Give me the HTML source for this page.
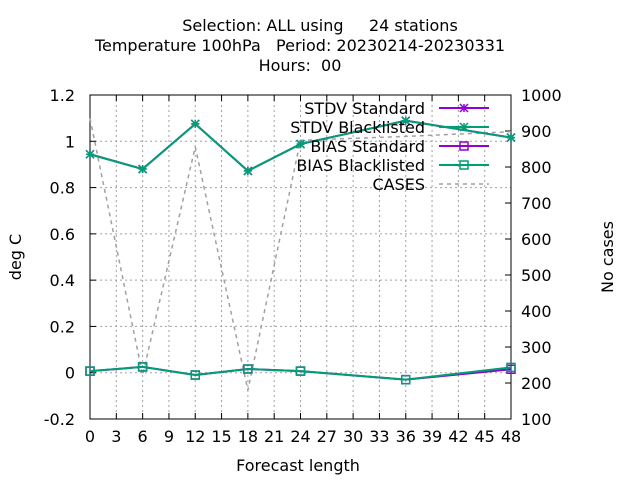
<!DOCTYPE html>
<html><head><meta charset="utf-8"><style>
body{margin:0;background:#fff}
svg text{font-family:"DejaVu Sans","Liberation Sans",sans-serif;font-size:16px;fill:#000}
</style></head><body>
<svg id="chart" width="640" height="480" viewBox="0 0 640 480">
<rect width="640" height="480" fill="#fff"/>
<g id="grid"></g>
<g id="axes"></g>
<g id="series"></g>
<g id="legend"></g>
<text x="320" y="31" text-anchor="middle" xml:space="preserve">Selection: ALL using     24 stations</text>
<text x="300" y="51" text-anchor="middle" xml:space="preserve">Temperature 100hPa   Period: 20230214-20230331</text>
<text x="300" y="71" text-anchor="middle" xml:space="preserve">Hours:  00</text>
<text x="298" y="471" text-anchor="middle">Forecast length</text>
<text transform="translate(21,257) rotate(-90)" text-anchor="middle">deg C</text>
<text transform="translate(613,257) rotate(-90)" text-anchor="middle">No cases</text>
</svg>
<script>
const hours=[0,6,12,18,24,36,48];
const stdvStd=[0.944,0.880,1.075,0.872,0.988,1.089,1.016];
const stdvBl=[0.944,0.880,1.075,0.872,0.988,1.089,1.016];
const biasStd=[0.007,0.025,-0.010,0.016,0.007,-0.030,0.015];
const biasBl=[0.007,0.025,-0.010,0.016,0.007,-0.030,0.023];
const cases=[935,222,856,180,874,885,898];
const xTicks=[0,3,6,9,12,15,18,21,24,27,30,33,36,39,42,45,48];
const yTicks=[-0.2,0,0.2,0.4,0.6,0.8,1,1.2];
const y2Ticks=[100,200,300,400,500,600,700,800,900,1000];
const X0=90,X1=511,Y0=95,Y1=419;
const NS='http://www.w3.org/2000/svg';
const sx=v=>X0+(v-0)/48*(X1-X0);
const sy=v=>Y1-(v+0.2)/1.4*(Y1-Y0);
const sy2=v=>Y1-(v-100)/900*(Y1-Y0);
function mk(tag,attrs,parent){const e=document.createElementNS(NS,tag);for(const k in attrs)e.setAttribute(k,attrs[k]);parent.appendChild(e);return e;}
const grid=document.getElementById('grid'),axes=document.getElementById('axes'),ser=document.getElementById('series'),leg=document.getElementById('legend');
xTicks.forEach(t=>{const x=sx(t);
 if(t>0&&t<48){const g=mk('line',{x1:x,x2:x,y1:Y0,y2:Y1,stroke:'#a0a0a0','stroke-width':1,'stroke-dasharray':'2,3'},grid);
 
 }
 mk('line',{x1:x,x2:x,y1:Y1,y2:Y1-6,stroke:'#000'},axes);
 mk('line',{x1:x,x2:x,y1:Y0,y2:Y0+6,stroke:'#000'},axes);
 const tx=mk('text',{x:x,y:Y1+23,'text-anchor':'middle'},axes);tx.textContent=t;
 
 });
yTicks.forEach(t=>{const y=sy(t);
 if(t>-0.2&&t<1.2){const g=mk('line',{x1:X0,x2:X1,y1:y,y2:y,stroke:'#a0a0a0','stroke-width':1,'stroke-dasharray':'2,3'},grid);
 
 }
 mk('line',{x1:X0,x2:X0+6,y1:y,y2:y,stroke:'#000'},axes);
 const tx=mk('text',{x:X0-15,y:y+6,'text-anchor':'end'},axes);tx.textContent=Math.round(t*10)/10;
 
 });
y2Ticks.forEach(t=>{const y=sy2(t);
 mk('line',{x1:X1,x2:X1-6,y1:y,y2:y,stroke:'#000'},axes);
 const tx=mk('text',{x:X1+10,y:y+6,'text-anchor':'start'},axes);tx.textContent=t;
 
 });
const frame=mk('rect',{x:X0,y:Y0,width:X1-X0,height:Y1-Y0,fill:'none',stroke:'#000','stroke-width':1},axes);


function star(g,x,y,c){mk('path',{d:`M${x-4} ${y-4}L${x+4} ${y+4}M${x-4} ${y+4}L${x+4} ${y-4}M${x-4} ${y}L${x+4} ${y}M${x} ${y-4}L${x} ${y+4}`,stroke:c,'stroke-width':1.5,fill:'none'},g);}
function box(g,x,y,c){mk('rect',{x:x-4,y:y-4,width:8,height:8,fill:'none',stroke:c,'stroke-width':1.5},g);}
function series(name,vals,scale,color,marker,dash){
 const g=mk('g',{},ser);
 
 
 const pts=hours.map((h,i)=>sx(h)+','+scale(vals[i])).join(' ');
 const a={points:pts,fill:'none',stroke:color,'stroke-width':dash?1.5:2};if(dash)a['stroke-dasharray']='4,4';
 mk('polyline',a,g);
 if(marker)hours.forEach((h,i)=>marker(g,sx(h),scale(vals[i]),color));}
series('cases-line',cases,sy2,'#a0a0a0',null,true);
series('stdv-standard-line',stdvStd,sy,'#9400d3',star);
series('stdv-blacklisted-line',stdvBl,sy,'#009e73',star);
series('bias-standard-line',biasStd,sy,'#9400d3',box);
series('bias-blacklisted-line',biasBl,sy,'#009e73',box);
const L=[['STDV Standard','#9400d3',star,false],['STDV Blacklisted','#009e73',star,false],['BIAS Standard','#9400d3',box,false],['BIAS Blacklisted','#009e73',box,false],['CASES','#a0a0a0',null,true]];
L.forEach((e,i)=>{const y=108+i*19;const g=mk('g',{},leg);
 
 
 const t=mk('text',{x:425,y:y+6,'text-anchor':'end'},g);t.textContent=e[0];
 const a={x1:439,x2:489,y1:y,y2:y,stroke:e[1],'stroke-width':e[3]?1.5:2};if(e[3])a['stroke-dasharray']='4,4';
 mk('line',a,g);if(e[2])e[2](g,464,y,e[1]);});
</script>
</body></html>
